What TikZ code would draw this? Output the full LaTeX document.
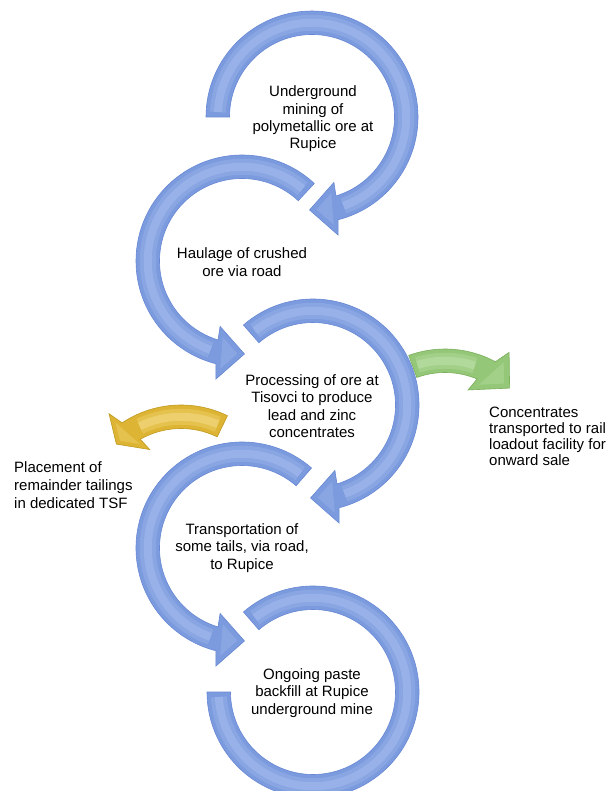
\documentclass[tikz,border=0pt]{standalone}
\usepackage{fontspec}
\setmainfont{Liberation Sans}
\usetikzlibrary{calc}
\definecolor{bluebase}{HTML}{7B9BDE}
\definecolor{bluemid}{HTML}{89A6E3}
\definecolor{bluelight}{HTML}{98B2E9}
\definecolor{blueedge}{HTML}{6787D4}
\definecolor{greenbase}{HTML}{94C777}
\definecolor{greenmid}{HTML}{A2D089}
\definecolor{greenlight}{HTML}{B2D99C}
\definecolor{greenedge}{HTML}{7AAF5C}
\definecolor{yellowbase}{HTML}{DDB433}
\definecolor{yellowmid}{HTML}{E5C24E}
\definecolor{yellowlight}{HTML}{EDD06D}
\definecolor{yellowedge}{HTML}{BF9A1E}

% #1 centre, #2 tail angle, #3 inner head-vertex angle, #4 outer head-vertex angle,
% #5 tip angle, #6 colour family (base/mid/light/edge)
\newcommand\ringarrow[6]{%
  \pgfmathsetmacro\aOut{#3+0.71*(#4-#3)}%
  \pgfmathsetmacro\aIn{#3+0.27*(#4-#3)}%
  \pgfmathsetmacro\hs{#2+sign(#3-#2)*3}%
  \pgfmathsetmacro\he{#3-sign(#3-#2)*1}%
  \coordinate (hA) at ($(#1)+(#4:121)$);
  \coordinate (hB) at ($(#1)+(#5:93)$);
  \coordinate (hC) at ($(#1)+(#3:69)$);
  \path[fill=#6base, draw=#6edge, line width=0.6]
    ($(#1)+(#2:106)$) arc[start angle=#2, end angle=\aOut, radius=106]
    -- (hA) -- (hB) -- (hC)
    -- ($(#1)+(\aIn:82.5)$) arc[start angle=\aIn, end angle=#2, radius=82.5] -- cycle;
  \draw[#6mid, line width=16] ($(#1)+(\hs:94.25)$) arc[start angle=\hs, end angle=\he, radius=94.25];
  \draw[#6light, line width=8] ($(#1)+(\hs:94.25)$) arc[start angle=\hs, end angle=\he, radius=94.25];
  \coordinate (hG) at ($0.3333*(hA)+0.3333*(hB)+0.3333*(hC)$);
  \path[fill=#6mid] ($(hG)!0.6!(hA)$) -- ($(hG)!0.6!(hB)$) -- ($(hG)!0.6!(hC)$) -- cycle;
}

\begin{document}
\begin{tikzpicture}[x=1pt,y=1pt,
  lbl/.style={align=center, inner sep=0pt, font=\fontsize{15}{17.3}\selectfont},
  side/.style={align=left, inner sep=0pt, anchor=west}]
\useasboundingbox (0,0) rectangle (608,-791);
\fill[white] (0,0) rectangle (608,-791);
\clip (0,0) rectangle (608,-791);

\coordinate (c1) at (312,-117);
\coordinate (c2) at (242,-261);
\coordinate (c3) at (313,-405);
\coordinate (c4) at (242,-548);
\coordinate (c5) at (313,-692);
\coordinate (cg) at (445,-455);
\coordinate (cy) at (181,-511);

% side arrows
\ringarrow{cg}{110}{70.5}{58}{46}{green}
\ringarrow{cy}{64}{117}{126.5}{134}{yellow}

% main circular arrows
\ringarrow{c1}{180}{-71.5}{-77.5}{-91.5}{blue}
\ringarrow{c2}{47}{251.5}{257.5}{271.5}{blue}
\ringarrow{c3}{131}{-71.5}{-77.5}{-91.5}{blue}
\ringarrow{c4}{49}{251.5}{257.5}{271.5}{blue}

\path[fill=bluebase, draw=blueedge, line width=0.6]
  ($(c5)+(131:106)$) arc[start angle=131, end angle=-180, radius=106]
  -- ($(c5)+(-180:82.5)$) arc[start angle=-180, end angle=131, radius=82.5] -- cycle;
\draw[bluemid, line width=16] ($(c5)+(128:94.25)$) arc[start angle=128, end angle=-177, radius=94.25];
\draw[bluelight, line width=8] ($(c5)+(128:94.25)$) arc[start angle=128, end angle=-177, radius=94.25];

% texts
\node[lbl] (t1) at (313,-119) {Underground\\mining of\\polymetallic ore at\\Rupice};
\node[lbl] (t2) at (242,-262) {Haulage of crushed\\ore via road};
\node[lbl] (t3) at (312,-406) {Processing of ore at\\Tisovci to produce\\lead and zinc\\concentrates};
\node[lbl] (t4) at (242,-548) {Transportation of\\some tails, via road,\\to Rupice};
\node[lbl] (t5) at (312,-693) {Ongoing paste\\backfill at Rupice\\underground mine};
\node[side, font=\fontsize{15}{16}\selectfont] (tg) at (489,-436) {Concentrates\\transported to rail\\loadout facility for\\onward sale};
\node[side, font=\fontsize{15}{18}\selectfont] (ty) at (14,-485) {Placement of\\remainder tailings\\in dedicated TSF};
\end{tikzpicture}
\end{document}
